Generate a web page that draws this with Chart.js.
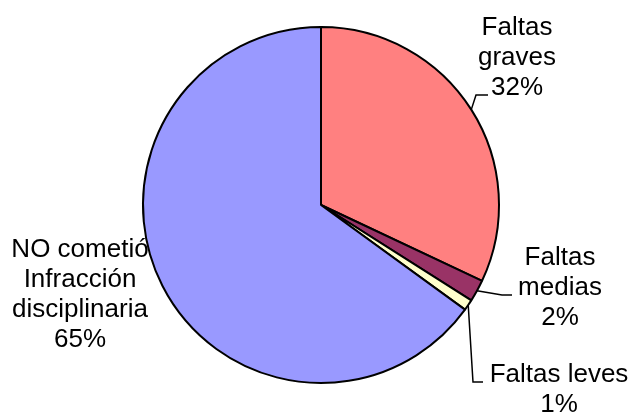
<!DOCTYPE html>
<html>
<head>
<meta charset="utf-8">
<script src="https://cdn.jsdelivr.net/npm/chart.js@4"></script>
<style>
  html, body { margin: 0; padding: 0; background: #fff; }
  #wrap { width: 634px; height: 414px; }
</style>
</head>
<body>
<div id="wrap"><canvas id="pieChart" width="634" height="414"></canvas></div>
<script>
// ------------------------------
// Data
// ------------------------------

const categories = [
    ["Faltas", "graves"],
    ["Faltas", "medias"],
    ["Faltas leves"],
    ["NO cometió", "Infracción", "disciplinaria"]
];

const values = [32, 2, 1, 65];

const colors = ["#FF8080", "#993366", "#FFFFCC", "#9999FF"];

// label placement: text centre x, first baseline y, leader elbow points
const labelPos = [
    { x: 517, y: 35, leader: [[476, 95], [488, 95]] },
    { x: 560, y: 265, leader: [[502, 295], [512, 295]] },
    { x: 559, y: 382, leader: [[473, 382], [483, 382]] },
    { x: 80, y: 257, leader: null }
];

const total = values.reduce((a, b) => a + b, 0);

// ------------------------------
// Labels + leader lines
// ------------------------------

const labelPlugin = {
    id: "pieLabels",
    afterDraw(chart) {
        const ctx = chart.ctx;
        const arcs = chart.getDatasetMeta(0).data;
        ctx.save();
        ctx.font = "26px 'Liberation Sans', Arial, sans-serif";
        ctx.fillStyle = "#000";
        ctx.strokeStyle = "#000";
        ctx.lineWidth = 1.5;
        ctx.textAlign = "center";
        ctx.textBaseline = "alphabetic";

        arcs.forEach((arc, i) => {
            const p = labelPos[i];
            if (p.leader) {
                const mid = (arc.startAngle + arc.endAngle) / 2;
                const sx = arc.x + Math.cos(mid) * arc.outerRadius;
                const sy = arc.y + Math.sin(mid) * arc.outerRadius;
                ctx.beginPath();
                ctx.moveTo(sx, sy);
                p.leader.forEach(pt => ctx.lineTo(pt[0], pt[1]));
                ctx.stroke();
            }
            const lines = categories[i].concat([Math.round(values[i] / total * 100) + "%"]);
            lines.forEach((t, k) => ctx.fillText(t, p.x, p.y + k * 30));
        });
        ctx.restore();
    }
};

// ------------------------------
// Pie
// ------------------------------

const pieChart = new Chart(document.getElementById("pieChart"), {

    type: "pie",

    data: {
        labels: categories.map(c => c.join(" ")),
        datasets: [{
            data: values,
            backgroundColor: colors,
            borderColor: "#000",
            borderWidth: 2
        }]
    },

    options: {
        responsive: false,
        animation: false,
        layout: {
            padding: { top: 26, bottom: 30, left: 142, right: 134 }
        },
        plugins: {
            legend: { display: false },
            tooltip: { enabled: false }
        }
    },

    plugins: [labelPlugin]

});
</script>
</body>
</html>
